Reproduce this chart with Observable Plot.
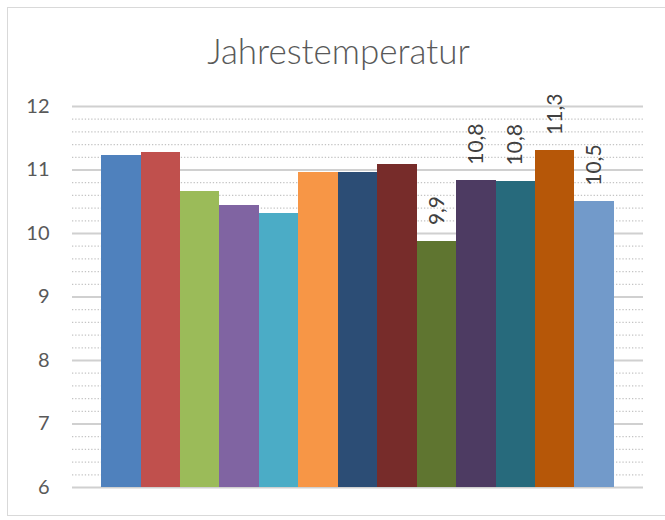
<!DOCTYPE html>
<html>
<head>
<meta charset="utf-8">
<script src="https://cdn.jsdelivr.net/npm/d3@7"></script>
<script src="https://cdn.jsdelivr.net/npm/@observablehq/plot@0.6"></script>
<style>
  html, body { margin: 0; padding: 0; background: #fff; width: 665px; height: 520px; overflow: hidden; }
  #frame { position: absolute; left: 7px; top: 7px; width: 720px; height: 507px; border: 1.5px solid #d9d9d9; }
  #title { position: absolute; left: 0; top: 29px; width: 677px; text-align: center;
           font-family: Lato, sans-serif; font-size: 35px; color: #595959; font-weight: 300; }
  #chart { position: absolute; left: 0; top: 90px; }
</style>
</head>
<body>
<div id="frame"></div>
<div id="title">Jahrestemperatur</div>
<div id="chart"></div>
<script>
const categories = ["1","2","3","4","5","6","7","8","9","10","11","12","13"];
const values = [11.23, 11.27, 10.66, 10.44, 10.31, 10.96, 10.96, 11.08, 9.88, 10.83, 10.82, 11.30, 10.50];
const valueLabels = ["", "", "", "", "", "", "", "", "9,9", "10,8", "10,8", "11,3", "10,5"];
const colors = ["#4F81BD","#C0504D","#9BBB59","#8064A2","#4BACC6","#F79646","#2C4D75","#772C2A","#5F7530","#4D3B62","#276A7C","#B65708","#729ACA"];
const yTicks = [6, 7, 8, 9, 10, 11, 12];
const minorTicks = d3.range(6, 12.001, 0.2).filter(v => Math.abs(v - Math.round(v)) > 0.01);

const data = categories.map((c, i) => ({cat: c, value: values[i], label: valueLabels[i], color: colors[i]}));

const chart = Plot.plot({
  width: 665,
  height: 427,
  marginTop: 16,
  marginBottom: 30,
  marginLeft: 72,
  marginRight: 22,
  style: {fontFamily: "Lato, sans-serif", background: "transparent"},
  x: {domain: categories, paddingInner: 0, paddingOuter: 0.74, round: false, axis: null},
  y: {domain: [6, 12], axis: null},
  marks: [
    Plot.ruleY(minorTicks, {stroke: "#c4c4c4", strokeWidth: 1.2, strokeDasharray: "1.3,1.9"}),
    Plot.ruleY(yTicks, {stroke: "#d0d0d0", strokeWidth: 2}),
    Plot.barY(data, {x: "cat", y1: 6, y2: "value", fill: "color", inset: 0, shapeRendering: "crispEdges"}),
    Plot.axisY({ticks: yTicks, tickSize: 0, tickPadding: 23, tickFormat: d => d, fontSize: 20, fill: "#595959", label: null}),
    Plot.text(data.filter(d => d.label), {x: "cat", y: "value", text: "label", rotate: -90, textAnchor: "start", dy: -16, fontSize: 21, fill: "#404040"})
  ]
});
document.getElementById("chart").appendChild(chart);
</script>
</body>
</html>
